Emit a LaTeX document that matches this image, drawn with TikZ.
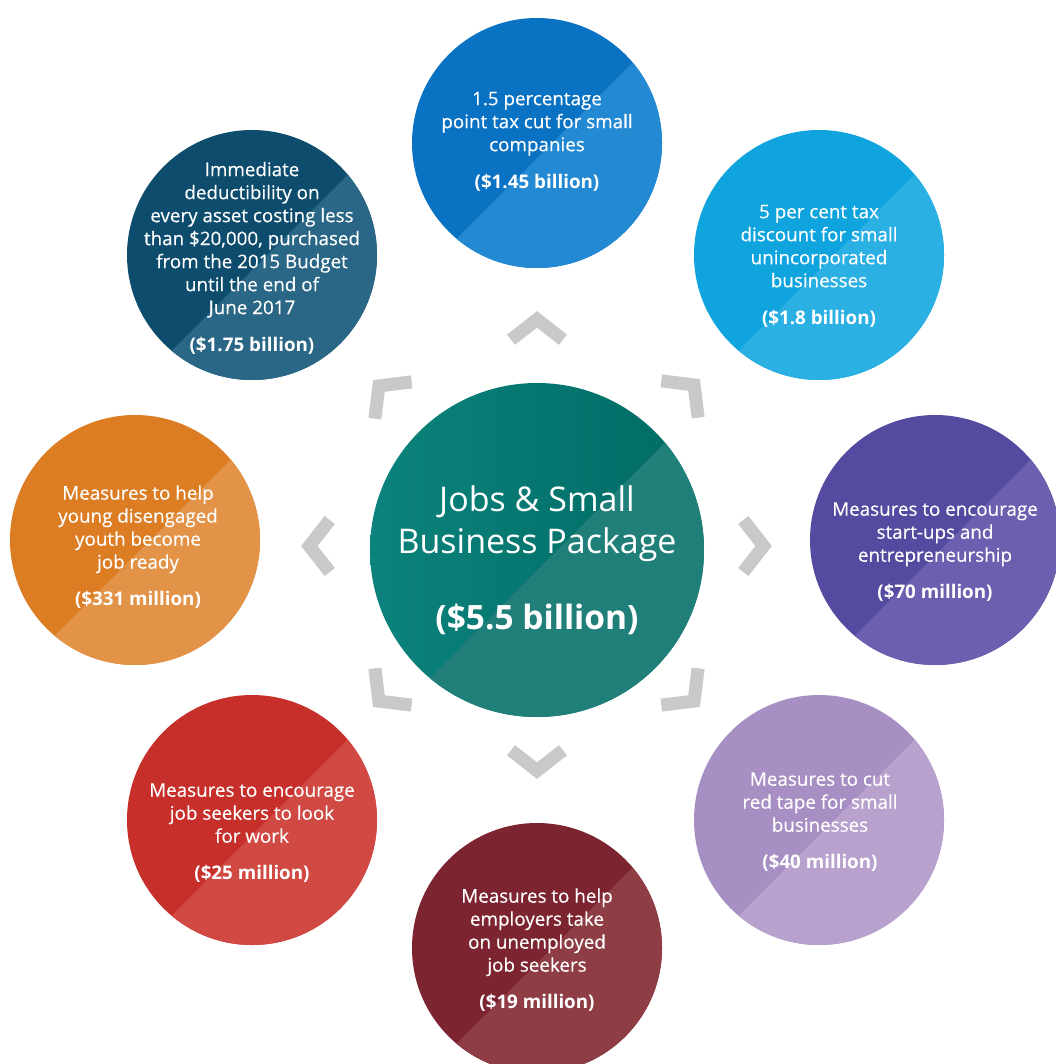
\documentclass[tikz,border=0pt]{standalone}
\usepackage{fontspec}
\setmainfont{Open Sans}
\newfontfamily\descfont{Open Sans}[FakeBold=0.3]
\usepackage{xcolor}
\definecolor{chevgrey}{HTML}{C9C9C9}
\definecolor{cCoreDk}{HTML}{006A64}
\definecolor{cCoreMd}{HTML}{0B837C}
\definecolor{cCoreLt}{HTML}{217F79}
\definecolor{cTopDk}{HTML}{0A72C2}
\definecolor{cTopLt}{HTML}{2389D2}
\definecolor{cURDk}{HTML}{0FA4DE}
\definecolor{cURLt}{HTML}{2BB0E4}
\definecolor{cRDk}{HTML}{544A9F}
\definecolor{cRLt}{HTML}{6B60AF}
\definecolor{cLRDk}{HTML}{A88FC3}
\definecolor{cLRLt}{HTML}{B8A1CD}
\definecolor{cBotDk}{HTML}{7C2430}
\definecolor{cBotLt}{HTML}{8E3D45}
\definecolor{cLLDk}{HTML}{C62F2A}
\definecolor{cLLLt}{HTML}{D04A43}
\definecolor{cLDk}{HTML}{DC7D24}
\definecolor{cLLt}{HTML}{E29347}
\definecolor{cULDk}{HTML}{0E4C6E}
\definecolor{cULLt}{HTML}{2A6685}
\usepackage{tikz}
\usetikzlibrary{calc}
\tikzset{
  bubble/.style={circle,inner sep=0pt,outer sep=0pt,minimum size=250},
  core/.style={circle,inner sep=0pt,outer sep=0pt,minimum size=334},
  desc/.style={align=center,text=white,inner sep=0pt,
    font=\descfont\fontsize{18.8}{23}\selectfont},
  chevline/.style={draw=chevgrey,line width=13,line join=miter,line cap=butt},
  pics/chevron/.style={code={\draw[chevline] (-11.7,26) -- (8.6,0) -- (-11.7,-26);}}}
\newcommand{\amount}[1]{{\normalfont\fontsize{18.8}{23}\selectfont\bfseries #1}}

\begin{document}
\begin{tikzpicture}[x=1pt,y=1pt]
  \useasboundingbox[fill=white] (0,0) rectangle (1055,-1064);

  % package in the middle
  \node[core] (core) at (537,-550) {};
  \begin{scope}
    \clip (core.center) circle (167);
    \shade[left color=cCoreMd,right color=cCoreDk] (370,-383) rectangle (704,-717);
  \end{scope}
  \fill[cCoreLt] (core.230) arc[start angle=230,end angle=400,radius=167] -- cycle;

  % the eight measures
  \foreach \nm/\px/\py/\dk/\lt in {top/537/-143/cTopDk/cTopLt, ur/819/-255/cURDk/cURLt,
      r/935/-540/cRDk/cRLt, lr/819/-820/cLRDk/cLRLt, bot/537/-948/cBotDk/cBotLt,
      ll/252/-820/cLLDk/cLLLt, l/135/-540/cLDk/cLLt, ul/252/-255/cULDk/cULLt}{
    \node[bubble,fill=\dk] (\nm) at (\px,\py) {};
    \fill[\lt] (\nm.230) arc[start angle=230,end angle=400,radius=125] -- cycle;
  }

  % chevrons pointing out to each measure
  \foreach \px/\py/\dir in {537/-328/90, 688/-391/45, 755/-546/0, 688/-695/-45,
      537/-762/-90, 385/-695/-135, 318/-546/180, 385/-392/135}
    \pic[rotate=\dir] at (\px,\py) {chevron};

  \node[text=white,align=center,font=\fontsize{34}{42}\selectfont] (title) at (537,-524)
    {Jobs \& Small\\Business Package};
  \node[text=white,font=\fontsize{33.5}{40}\selectfont\bfseries] (total) at (537,-619)
    {(\$5.5 billion)};

  \node[desc] (t-top) at (537,-141.5) {1.5 percentage\\point tax cut for small\\companies\\[14pt]\amount{(\$1.45 billion)}};
  \node[desc] (t-ur) at (819,-266) {5 per cent tax\\discount for small\\unincorporated\\businesses\\[14pt]\amount{(\$1.8 billion)}};
  \node[desc] (t-r) at (935,-552) {Measures to encourage\\start-ups and\\entrepreneurship\\[14pt]\amount{(\$70 million)}};
  \node[desc] (t-lr) at (820,-822) {Measures to cut\\red tape for small\\businesses\\[14pt]\amount{(\$40 million)}};
  \node[desc] (t-bot) at (537,-950) {Measures to help\\employers take\\on unemployed\\job seekers\\[14pt]\amount{(\$19 million)}};
  \node[desc] (t-ll) at (252,-833) {Measures to encourage\\job seekers to look\\for work\\[14pt]\amount{(\$25 million)}};
  \node[desc] (t-l) at (138,-547) {Measures to help\\young disengaged\\youth become\\job ready\\[14pt]\amount{(\$331 million)}};
  \node[desc] (t-ul) at (252,-258) {Immediate\\deductibility on\\every asset costing less\\than \$20,000, purchased\\from the 2015 Budget\\until the end of\\June 2017\\[14pt]\amount{(\$1.75 billion)}};
\end{tikzpicture}
\end{document}
